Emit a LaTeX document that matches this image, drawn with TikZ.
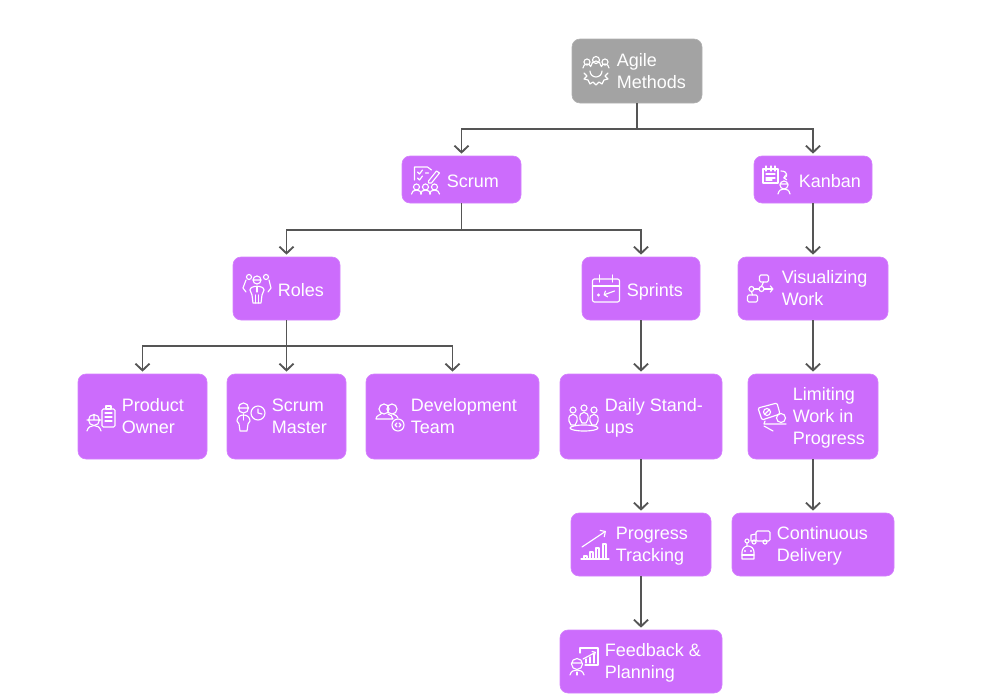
\documentclass[tikz,border=0pt]{standalone}
\usepackage{fontspec}
\setmainfont{Liberation Sans}
\usetikzlibrary{arrows.meta}
\definecolor{boxpurple}{HTML}{CC6CFC}
\definecolor{rootgray}{HTML}{A3A3A3}
\definecolor{flowgray}{HTML}{555555}
\tikzset{
    box/.style={fill=boxpurple, draw=boxpurple!85!white, line width=0.5pt, rounded corners=6pt, inner sep=0pt},
    rootbox/.style={box, fill=rootgray, draw=rootgray!85!white},
    boxtext/.style={text=white, anchor=west, align=left, inner sep=0pt, yshift=-2.4pt, font=\fontsize{13.5}{16.5}\selectfont, execute at begin node={\strut}, execute at end node={\strut}},
    flow/.style={draw=flowgray, line width=1.4pt, -{Straight Barb[length=5pt,width=10.5pt]}, shorten >=1.5pt},
    iconline/.style={draw=white, line width=0.85pt, line cap=round, line join=round},
    agileicon/.pic={
        \draw (-9,-9) circle (3) (9,-9) circle (3) (0,-11) circle (3.5);
        \draw (-13,-3) arc (180:340:4) (13,-3) arc (0:-160:4) (-5,-5) arc (180:360:5);
        \draw (-6,0) arc (180:0:6);
        \draw (-12,2)--(-9,5)--(-12,8)--(-8,9)--(-6,13)--(-3,11)--(0,14)--(3,11)--(6,13)--(8,9)--(12,8)--(9,5)--(12,2);
    },
    scrumicon/.pic={
        \draw (-11,0)--(-11,-13)--(2,-13)--(6,-10);
        \draw (-8,-8)--(-6,-6)--(-3,-10) (-8,-2)--(-6,0)--(-3,-4) (0,-7)--(3,-7);
        \draw (3,1)--(11,-9)--(14,-7)--(6,3)--(3,3)--cycle;
        \foreach \hx in {-9,0,9}{
            \draw (\hx,7) circle (3);
            \draw (\hx-5,14) arc (180:360:5 and 4);
        }
    },
    kanbanicon/.pic={
        \draw (-14,-11) rectangle (1,3);
        \draw (-11,-14)--(-11,-9) (-6,-14)--(-6,-9) (-2,-14)--(-2,-9);
        \draw (-11,-6)--(-2,-6) (-11,-2)--(-2,-2) (-11,0)--(-5,0);
        \draw[-{Straight Barb[length=2pt,width=4pt]}] (4,-9) .. controls (11,-9) and (11,-3) .. (6,-2);
        \draw (7,5) circle (4) (3,4)--(11,4);
        \draw (1,14) .. controls (2,10) and (4,9) .. (7,9) .. controls (10,9) and (12,10) .. (13,14);
    },
    sprintsicon/.pic={
        \draw[rounded corners=1.5pt] (-13,-10) rectangle (14,13);
        \draw (-13,-3)--(14,-3) (-6,-14)--(-6,-7) (7,-14)--(7,-7);
        \fill[white] (-7,6) circle (1.6);
        \draw[-{Straight Barb[length=2pt,width=5pt]}] (9,2)--(-2,6);
    },
    visualizingicon/.pic={
        \draw[rounded corners=1pt] (-1,-14) rectangle (8,-7) (-13,6) rectangle (-3,13);
        \draw (-9,0) circle (2.5) (1,0) circle (2.5);
        \draw (-6.5,0)--(-1.5,0);
        \draw[-{Straight Barb[length=2pt,width=5pt]}] (3.5,0)--(13,0);
        \draw (3,-7)--(1,-2.5) (-9,2.5)--(-8,6);
    },
    rolesicon/.pic={
        \draw (-8,-12) circle (2.5) (9,-12) circle (2.5) (0,-9) circle (4) (-4,-9)--(4,-9);
        \draw (-11,-9)--(-14,-1)--(-11,3) (12,-9)--(14,-1)--(11,3);
        \draw (-7,1) .. controls (-7,-4) and (7,-4) .. (7,1)--(5,6)--(4,14)--(-4,14)--(-5,6)--cycle;
        \draw (0,-2)--(0,3) (-1.5,6)--(-1.5,14) (1.5,6)--(1.5,14);
    },
    producticon/.pic={
        \draw[rounded corners=1pt] (1,-8) rectangle (14,10);
        \draw (5,-11) rectangle (10,-8);
        \draw (4,-4)--(11,-4) (4,0)--(11,0) (4,4)--(11,4);
        \draw (-7,3) circle (5.5) (-14,3)--(0,3) (-7,-2.5)--(-7,3);
        \draw (-14,14) .. controls (-13,10) and (-10,8.5) .. (-7,8.5) .. controls (-4,8.5) and (-1,10) .. (0,14);
    },
    scrummastericon/.pic={
        \draw (-7.5,-9) circle (5) (-12.5,-9)--(-2.5,-9);
        \draw (-14,4) .. controls (-14,-4) and (-1,-4) .. (-1,4)--(-3,7)--(-4,14)--(-11,14)--(-12,7)--cycle;
        \draw (-7.5,-3)--(-7.5,3);
        \draw (7,-4) circle (7) (7,-8)--(7,-4)--(11,-3);
    },
    devteamicon/.pic={
        \draw (-6,-8) circle (5) (2,-8) circle (5);
        \draw (-14,2) .. controls (-14,-2) and (-9,-2) .. (-8,-4) (-14,2)--(3,2) .. controls (3,-1) and (0,-2) .. (-2,-3);
        \draw (3,-3) .. controls (6,-2) and (7,-1) .. (8,1);
        \draw (8,8) circle (6);
        \draw (7,6)--(5,8)--(7,10) (9,6)--(11,8)--(9,10);
    },
    dailyicon/.pic={
        \foreach \hx/\hy in {-11/-7,0/-9,10/-7}{
            \draw (\hx,\hy) circle (3);
            \draw (\hx-4,\hy+11) .. controls (\hx-6,\hy+2) and (\hx+6,\hy+2) .. (\hx+4,\hy+11)--(\hx+2,\hy+15)--(\hx-2,\hy+15)--cycle;
        }
        \draw (0,11) ellipse (14 and 3);
    },
    limitingicon/.pic={
        \draw[rounded corners=1pt] (-14,-9)--(5,-14)--(8,-3)--(-10,3)--cycle;
        \draw (-5,-5) circle (3.5) (-7,-3)--(-3,-7);
        \draw (9,1) circle (4.5);
        \draw (-7,4)--(-8,7)--(14,7) (-8,9)--(1,14);
    },
    progressicon/.pic={
        \draw (-14,14)--(14,14);
        \draw (-11,14)--(-11,11)--(-8,11)--(-8,14) (-5,14)--(-5,7)--(-2,7)--(-2,14);
        \draw (1,14)--(1,3)--(4,3)--(4,14) (8,14)--(8,-1)--(11,-1)--(11,14);
        \draw[-{Straight Barb[length=3pt,width=6pt]}] (-13,2)--(11,-14);
    },
    continuousicon/.pic={
        \draw[rounded corners=1pt] (0,-14) rectangle (14,-4);
        \draw (0,-11)--(-5,-10)--(-5,-4)--(0,-4);
        \draw (-2,-3) circle (2) (9,-3) circle (2);
        \draw (-9,-4) circle (2) (-9,-2)--(-9,1);
        \draw (-14,14)--(-14,7) arc (180:360:6)--(-2,14)--cycle;
        \fill[white] (-11,6) circle (1.2) (-5,6) circle (1.2);
        \draw (-14,10)--(-2,10);
    },
    feedbackicon/.pic={
        \draw (-4,-8)--(-4,-13)--(14,-13)--(14,4)--(1,4);
        \draw (2,2)--(2,-2) (6,2)--(6,-4) (10,2)--(10,-7);
        \draw[-{Straight Barb[length=2pt,width=4pt]}] (-1,-2)--(12,-9);
        \draw (-7,3) circle (5.5) (-12.5,2)--(-2,2);
        \draw (-14,14) .. controls (-13,10) and (-10,9) .. (-7,9) .. controls (-4,9) and (-1,10) .. (0,14);
        \draw (-7,11)--(-7,14);
    },
}
\begin{document}
\begin{tikzpicture}[x=0.75pt,y=-0.75pt]
\useasboundingbox (0,0) rectangle (1000,700);
\foreach \x/\y/\w/\h/\p/\look/\tx/\ix/\iy/\labeltext in {
    637/71/130/64/agile/rootbox/616.5/596/71/{Agile\\Methods},
    461.5/179.5/119/47/scrum/box/446.5/425.5/180/{Scrum},
    813/179.5/118/47/kanban/box/798.5/777/180/{Kanban},
    286.5/288.5/107/63/roles/box/277.5/257/289/{Roles},
    641/288.5/118/63/sprints/box/626.5/605.5/289/{Sprints},
    813/288.5/150/63/visualizing/box/781.5/760.5/289/{Visualizing\\Work},
    142.5/416.5/129/85/product/box/121.5/101/417/{Product\\Owner},
    286.5/416.5/119/85/scrummaster/box/271.5/251/417/{Scrum\\Master},
    452.5/416.5/173/85/devteam/box/410.5/390/417/{Development\\Team},
    641/416.5/162/85/daily/box/604.5/584/417/{Daily Stand-\\ups},
    813/416.5/130/85/limiting/box/792.5/772/417/{Limiting\\Work in\\Progress},
    641/544.5/140/63/progress/box/615.5/595/545/{Progress\\Tracking},
    813/544.5/162/63/continuous/box/776.5/756/545/{Continuous\\Delivery},
    641/661.5/162/63/feedback/box/604.5/584/661/{Feedback \&\\Planning}}{
    \node[\look, minimum width=\w*0.75pt, minimum height=\h*0.75pt] (\p) at (\x,\y) {};
    \node[boxtext] (\p text) at (\tx,\y) {\labeltext};
    \pic[iconline] at (\ix,\iy) {\p icon};
}
\coordinate (agilejoin) at (637,129);
\coordinate (scrumjoin) at (461.5,230);
\coordinate (rolesjoin) at (286.5,346);
\draw[flow] (agile.south) -- (agilejoin) -| (scrum.north);
\draw[flow] (agilejoin) -| (kanban.north);
\draw[flow] (scrum.south) -- (scrumjoin) -| (roles.north);
\draw[flow] (scrumjoin) -| (sprints.north);
\draw[flow] (roles.south) -- (rolesjoin) -| (product.north);
\draw[flow] (roles.south) -- (scrummaster.north);
\draw[flow] (rolesjoin) -| (devteam.north);
\draw[flow] (kanban) -- (visualizing);
\draw[flow] (visualizing) -- (limiting);
\draw[flow] (limiting) -- (continuous);
\draw[flow] (sprints) -- (daily);
\draw[flow] (daily) -- (progress);
\draw[flow] (progress) -- (feedback);
\end{tikzpicture}
\end{document}
